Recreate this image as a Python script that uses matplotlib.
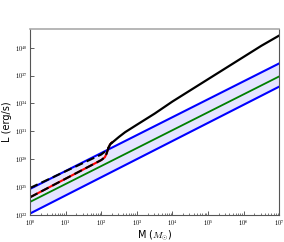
import numpy as np
import matplotlib
matplotlib.use('Agg')
import matplotlib.pyplot as plt
from matplotlib.ticker import LogLocator, FixedLocator

plt.rcParams['mathtext.fontset'] = 'cm'

# straight power-law bands (log10 M, log10 L)
band_logm = [0, 7]
upper_blue = [24.8, 38.3]
green_line = [23.4, 36.9]
lower_blue = [22.15, 35.8]

# black dashed (upper track), low-mass part
dash_up_logm = [0, 0.5, 1, 1.5, 2, 2.1]
dash_up_logl = [24.9, 25.8, 26.7, 27.6, 28.5, 28.8]

# red track with black dashes on top
red_logm = [0, 0.5, 1, 1.5, 2, 2.1, 2.15, 2.2, 2.25, 2.3]
red_logl = [23.9, 24.9, 25.9, 26.9, 27.9, 28.2, 28.6, 29.2, 29.6, 29.8]

# black solid, high-mass part
solid_logm = [2.2, 2.25, 2.5, 2.67, 3.0, 3.5, 4.0, 4.5, 5.0, 5.5, 6.0, 6.5, 7.0]
solid_logl = [29.2, 29.6, 30.4, 30.9, 31.7, 32.9, 34.2, 35.4, 36.6, 37.8, 39.0, 40.2, 41.3]

def p(v):
    return 10.0 ** np.array(v)

fig = plt.figure(figsize=(2.84, 2.42), dpi=100)
ax = fig.add_axes([0.106, 0.112, 0.877, 0.768])

ax.fill_between(p(band_logm), p(lower_blue), p(upper_blue), color='blue', alpha=0.1, lw=0)
ax.plot(p(band_logm), p(upper_blue), color='blue', lw=1.5)
ax.plot(p(band_logm), p(lower_blue), color='blue', lw=1.5)
ax.plot(p(band_logm), p(green_line), color='green', lw=1.3)

ax.plot(p(red_logm), p(red_logl), color='red', lw=1.5)
ax.plot(p(red_logm), p(red_logl), color='black', lw=1.5, ls=(0, (4, 2)))
ax.plot(p(dash_up_logm), p(dash_up_logl), color='black', lw=1.5, ls=(0, (4, 2)))
ax.plot(p(solid_logm), p(solid_logl), color='black', lw=1.6)

ax.set_xscale('log')
ax.set_yscale('log')
ax.set_xlim(1, 1e7)
ax.set_ylim(1e22, 1e42)

ax.xaxis.set_major_locator(FixedLocator([10.0 ** k for k in range(8)]))
ax.xaxis.set_minor_locator(LogLocator(base=10, subs=np.arange(2, 10), numticks=20))
ax.yaxis.set_major_locator(FixedLocator([10.0 ** k for k in range(22, 41, 3)]))
ax.yaxis.set_minor_locator(FixedLocator([]))
ax.set_xticklabels([r'$10^{%d}$' % k for k in range(8)])
ax.set_yticklabels([r'$10^{%d}$' % k for k in range(22, 41, 3)])

ax.tick_params(which='both', direction='in', labelsize=4.5, pad=2, color='#444444')
ax.tick_params(which='major', length=3, width=0.6)
ax.tick_params(which='minor', length=1.5, width=0.5)

for s in ['left', 'bottom', 'right']:
    ax.spines[s].set_color('#555555')
    ax.spines[s].set_linewidth(0.8)
ax.spines['top'].set_color('#aaaaaa')
ax.spines['top'].set_linewidth(1.2)

ax.set_xlabel(r'M ($M_{\odot}$)', fontsize=7, labelpad=1)
ax.set_ylabel('L (erg/s)', fontsize=7, labelpad=2)

fig.savefig('out.png', dpi=100)
